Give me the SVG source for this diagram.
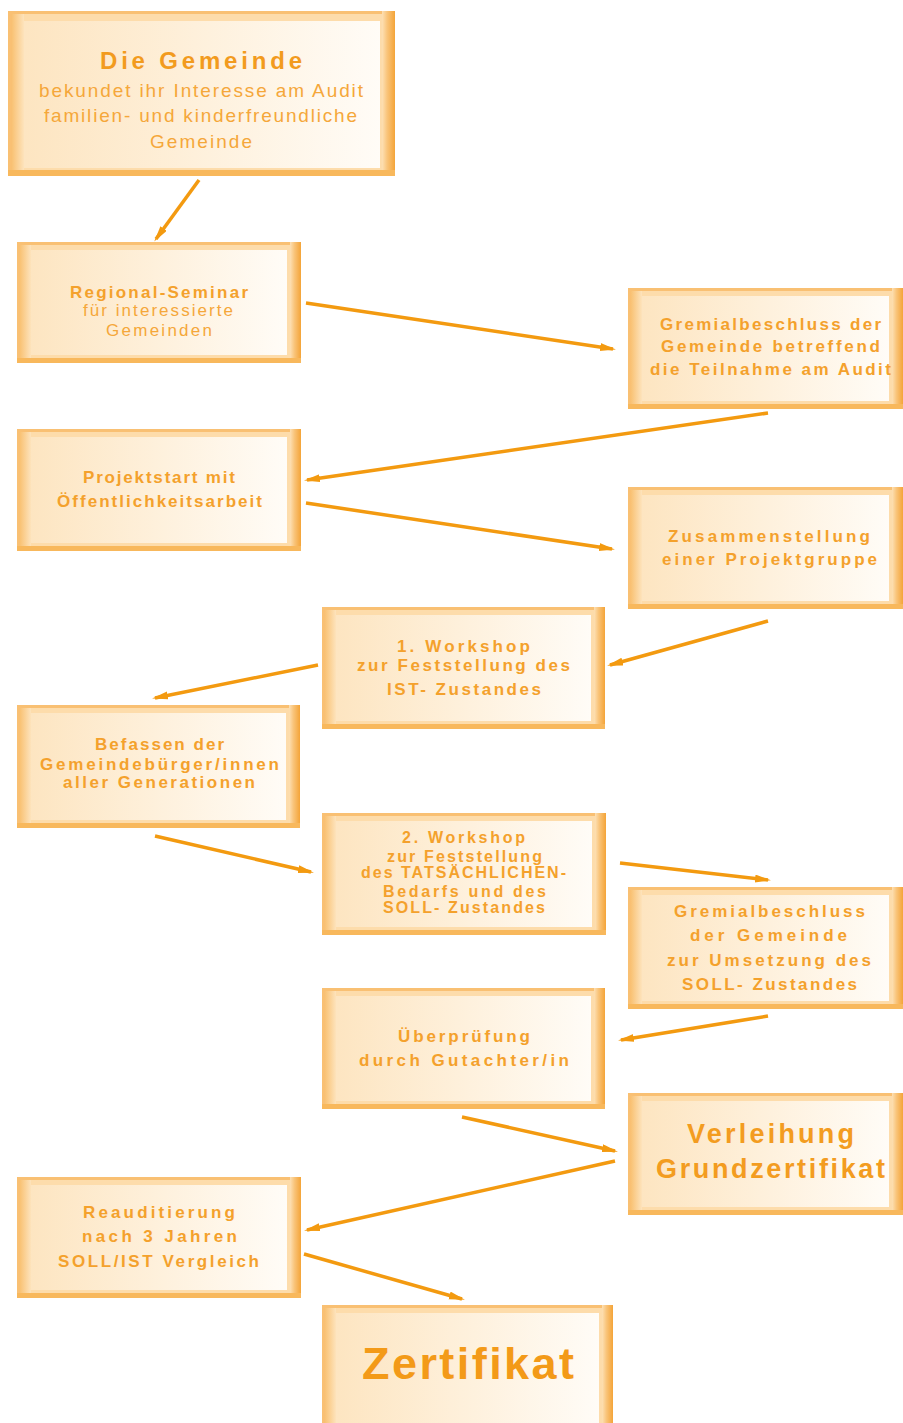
<svg xmlns="http://www.w3.org/2000/svg" width="903" height="1423" viewBox="0 0 903 1423">
<defs>
<linearGradient id="gIn" x1="0" y1="0" x2="1" y2="0"><stop offset="0" stop-color="#fde5c1"/><stop offset="1" stop-color="#fffcf7"/></linearGradient>
<linearGradient id="gL" x1="0" y1="0" x2="1" y2="0"><stop offset="0" stop-color="#f9c274"/><stop offset="1" stop-color="#fde3bc"/></linearGradient>
<linearGradient id="gR" x1="0" y1="0" x2="1" y2="0"><stop offset="0" stop-color="#fde0b4"/><stop offset="0.4" stop-color="#f9c47a"/><stop offset="1" stop-color="#f4a438"/></linearGradient>
<marker id="ah" markerUnits="userSpaceOnUse" markerWidth="18" markerHeight="10" refX="13" refY="4" orient="auto"><path d="M0,0 L16,4 L0,8 z" fill="#f39a10"/></marker>
</defs>
<style>
.fo{fill:#f9c073}
.fb{fill:#fddcab}
.fl{fill:url(#gL)}
.fr{fill:url(#gR)}
.fd{fill:#f8b85c}
.fi{fill:url(#gIn)}
text{font-family:"Liberation Sans",Arial,sans-serif;fill:#f4a12c}
.t{font-size:17px;font-weight:bold}
.t2{font-size:16px;font-weight:bold}
.n{font-size:17px;font-weight:normal;fill:#f5a73a}
.s{font-size:19px;font-weight:normal;fill:#f5a73a}
.h1{font-size:24px;font-weight:bold;fill:#f29b1e}
.h2{font-size:27px;font-weight:bold;fill:#f39c20}
.h3{font-size:45px;font-weight:bold;fill:#f39a18}
.c line{stroke:#f39a10;stroke-width:3.5;marker-end:url(#ah)}
</style>
<rect width="903" height="1423" fill="#ffffff"/>

<g id="n1">
<rect class="fo" x="8" y="11" width="387" height="165"/>
<rect class="fb" x="12" y="14" width="372" height="157"/>
<rect class="fl" x="12" y="14" width="12" height="157"/>
<rect class="fr" x="382" y="11" width="13" height="165"/>
<rect class="fd" x="8" y="170" width="387" height="6"/>
<rect class="fi" x="24" y="21" width="356" height="147"/>
<text class="h1" x="100" y="69" textLength="202" lengthAdjust="spacing">Die Gemeinde</text>
<text class="s" x="39" y="97" textLength="324" lengthAdjust="spacing">bekundet ihr Interesse am Audit</text>
<text class="s" x="44" y="122" textLength="313" lengthAdjust="spacing">familien- und kinderfreundliche</text>
<text class="s" x="150" y="148" textLength="102" lengthAdjust="spacing">Gemeinde</text>
</g>

<g id="n2">
<rect class="fo" x="17" y="242" width="284" height="121"/>
<rect class="fb" x="20" y="245" width="271" height="113"/>
<rect class="fl" x="20" y="245" width="11" height="113"/>
<rect class="fr" x="290" y="242" width="11" height="121"/>
<rect class="fd" x="17" y="358" width="284" height="5"/>
<rect class="fi" x="31" y="250" width="256" height="105"/>
<text class="t" x="70" y="298" textLength="178" lengthAdjust="spacing">Regional-Seminar</text>
<text class="n" x="83" y="316" textLength="150" lengthAdjust="spacing">für interessierte</text>
<text class="n" x="106" y="336" textLength="106" lengthAdjust="spacing">Gemeinden</text>
</g>

<g id="n3">
<rect class="fo" x="628" y="288" width="275" height="121"/>
<rect class="fb" x="631" y="291" width="262" height="113"/>
<rect class="fl" x="631" y="291" width="11" height="113"/>
<rect class="fr" x="892" y="288" width="11" height="121"/>
<rect class="fd" x="628" y="404" width="275" height="5"/>
<rect class="fi" x="642" y="296" width="247" height="105"/>
<text class="t" x="660" y="330" textLength="221" lengthAdjust="spacing">Gremialbeschluss der</text>
<text class="t" x="661" y="352" textLength="219" lengthAdjust="spacing">Gemeinde betreffend</text>
<text class="t" x="650" y="375" textLength="241" lengthAdjust="spacing">die Teilnahme am Audit</text>
</g>

<g id="n4">
<rect class="fo" x="17" y="429" width="284" height="122"/>
<rect class="fb" x="20" y="432" width="271" height="114"/>
<rect class="fl" x="20" y="432" width="11" height="114"/>
<rect class="fr" x="290" y="429" width="11" height="122"/>
<rect class="fd" x="17" y="546" width="284" height="5"/>
<rect class="fi" x="31" y="437" width="256" height="106"/>
<text class="t" x="83" y="483" textLength="152" lengthAdjust="spacing">Projektstart mit</text>
<text class="t" x="57" y="507" textLength="205" lengthAdjust="spacing">Öffentlichkeitsarbeit</text>
</g>

<g id="n5">
<rect class="fo" x="628" y="487" width="275" height="122"/>
<rect class="fb" x="631" y="490" width="262" height="114"/>
<rect class="fl" x="631" y="490" width="11" height="114"/>
<rect class="fr" x="892" y="487" width="11" height="122"/>
<rect class="fd" x="628" y="604" width="275" height="5"/>
<rect class="fi" x="642" y="495" width="247" height="106"/>
<text class="t" x="668" y="542" textLength="202" lengthAdjust="spacing">Zusammenstellung</text>
<text class="t" x="662" y="565" textLength="215" lengthAdjust="spacing">einer Projektgruppe</text>
</g>

<g id="n6">
<rect class="fo" x="322" y="607" width="283" height="122"/>
<rect class="fb" x="325" y="610" width="270" height="114"/>
<rect class="fl" x="325" y="610" width="11" height="114"/>
<rect class="fr" x="594" y="607" width="11" height="122"/>
<rect class="fd" x="322" y="724" width="283" height="5"/>
<rect class="fi" x="336" y="615" width="255" height="106"/>
<text class="t" x="397" y="652" textLength="133" lengthAdjust="spacing">1. Workshop</text>
<text class="t" x="357" y="671" textLength="213" lengthAdjust="spacing">zur Feststellung des</text>
<text class="t" x="387" y="695" textLength="154" lengthAdjust="spacing">IST- Zustandes</text>
</g>

<g id="n7">
<rect class="fo" x="17" y="705" width="283" height="123"/>
<rect class="fb" x="20" y="708" width="270" height="115"/>
<rect class="fl" x="20" y="708" width="11" height="115"/>
<rect class="fr" x="289" y="705" width="11" height="123"/>
<rect class="fd" x="17" y="823" width="283" height="5"/>
<rect class="fi" x="31" y="713" width="255" height="107"/>
<text class="t" x="95" y="750" textLength="129" lengthAdjust="spacing">Befassen der</text>
<text class="t" x="40" y="770" textLength="239" lengthAdjust="spacing">Gemeindebürger/innen</text>
<text class="t" x="63" y="788" textLength="192" lengthAdjust="spacing">aller Generationen</text>
</g>

<g id="n8">
<rect class="fo" x="322" y="813" width="284" height="122"/>
<rect class="fb" x="325" y="816" width="271" height="114"/>
<rect class="fl" x="325" y="816" width="11" height="114"/>
<rect class="fr" x="595" y="813" width="11" height="122"/>
<rect class="fd" x="322" y="930" width="284" height="5"/>
<rect class="fi" x="336" y="821" width="256" height="106"/>
<text class="t2" x="402" y="843" textLength="123" lengthAdjust="spacing">2. Workshop</text>
<text class="t2" x="387" y="862" textLength="155" lengthAdjust="spacing">zur Feststellung</text>
<text class="t2" x="361" y="878" textLength="205" lengthAdjust="spacing">des TATSÄCHLICHEN-</text>
<text class="t2" x="383" y="897" textLength="163" lengthAdjust="spacing">Bedarfs und des</text>
<text class="t2" x="383" y="913" textLength="162" lengthAdjust="spacing">SOLL- Zustandes</text>
</g>

<g id="n9">
<rect class="fo" x="628" y="887" width="275" height="122"/>
<rect class="fb" x="631" y="890" width="262" height="114"/>
<rect class="fl" x="631" y="890" width="11" height="114"/>
<rect class="fr" x="892" y="887" width="11" height="122"/>
<rect class="fd" x="628" y="1004" width="275" height="5"/>
<rect class="fi" x="642" y="895" width="247" height="106"/>
<text class="t" x="674" y="917" textLength="191" lengthAdjust="spacing">Gremialbeschluss</text>
<text class="t" x="690" y="941" textLength="157" lengthAdjust="spacing">der Gemeinde</text>
<text class="t" x="667" y="966" textLength="204" lengthAdjust="spacing">zur Umsetzung des</text>
<text class="t" x="682" y="990" textLength="175" lengthAdjust="spacing">SOLL- Zustandes</text>
</g>

<g id="n10">
<rect class="fo" x="322" y="988" width="283" height="121"/>
<rect class="fb" x="325" y="991" width="270" height="113"/>
<rect class="fl" x="325" y="991" width="11" height="113"/>
<rect class="fr" x="594" y="988" width="11" height="121"/>
<rect class="fd" x="322" y="1104" width="283" height="5"/>
<rect class="fi" x="336" y="996" width="255" height="105"/>
<text class="t" x="398" y="1042" textLength="132" lengthAdjust="spacing">Überprüfung</text>
<text class="t" x="359" y="1066" textLength="210" lengthAdjust="spacing">durch Gutachter/in</text>
</g>

<g id="n11">
<rect class="fo" x="628" y="1093" width="275" height="122"/>
<rect class="fb" x="631" y="1096" width="262" height="114"/>
<rect class="fl" x="631" y="1096" width="11" height="114"/>
<rect class="fr" x="892" y="1093" width="11" height="122"/>
<rect class="fd" x="628" y="1210" width="275" height="5"/>
<rect class="fi" x="642" y="1101" width="247" height="106"/>
<text class="h2" x="687" y="1143" textLength="167" lengthAdjust="spacing">Verleihung</text>
<text class="h2" x="656" y="1178" textLength="229" lengthAdjust="spacing">Grundzertifikat</text>
</g>

<g id="n12">
<rect class="fo" x="17" y="1177" width="284" height="121"/>
<rect class="fb" x="20" y="1180" width="271" height="113"/>
<rect class="fl" x="20" y="1180" width="11" height="113"/>
<rect class="fr" x="290" y="1177" width="11" height="121"/>
<rect class="fd" x="17" y="1293" width="284" height="5"/>
<rect class="fi" x="31" y="1185" width="256" height="105"/>
<text class="t" x="83" y="1218" textLength="152" lengthAdjust="spacing">Reauditierung</text>
<text class="t" x="82" y="1242" textLength="155" lengthAdjust="spacing">nach 3 Jahren</text>
<text class="t" x="58" y="1267" textLength="201" lengthAdjust="spacing">SOLL/IST Vergleich</text>
</g>

<g id="n13">
<rect class="fo" x="322" y="1305" width="291" height="126"/>
<rect class="fb" x="325" y="1308" width="278" height="120"/>
<rect class="fl" x="325" y="1308" width="11" height="120"/>
<rect class="fr" x="602" y="1305" width="11" height="126"/>
<rect class="fi" x="336" y="1313" width="263" height="118"/>
<text class="h3" x="362" y="1379" textLength="212" lengthAdjust="spacing">Zertifikat</text>
</g>

<g id="connectors" class="c">
<line x1="199" y1="180" x2="156" y2="239"/>
<line x1="306" y1="303" x2="613" y2="349"/>
<line x1="768" y1="413" x2="307" y2="480"/>
<line x1="306" y1="503" x2="612" y2="549"/>
<line x1="768" y1="621" x2="610" y2="665"/>
<line x1="318" y1="665" x2="155" y2="698"/>
<line x1="155" y1="836" x2="311" y2="872"/>
<line x1="620" y1="863" x2="768" y2="880"/>
<line x1="768" y1="1016" x2="621" y2="1040"/>
<line x1="462" y1="1117" x2="615" y2="1151"/>
<line x1="615" y1="1161" x2="307" y2="1230"/>
<line x1="304" y1="1254" x2="462" y2="1299"/>
</g>
</svg>
